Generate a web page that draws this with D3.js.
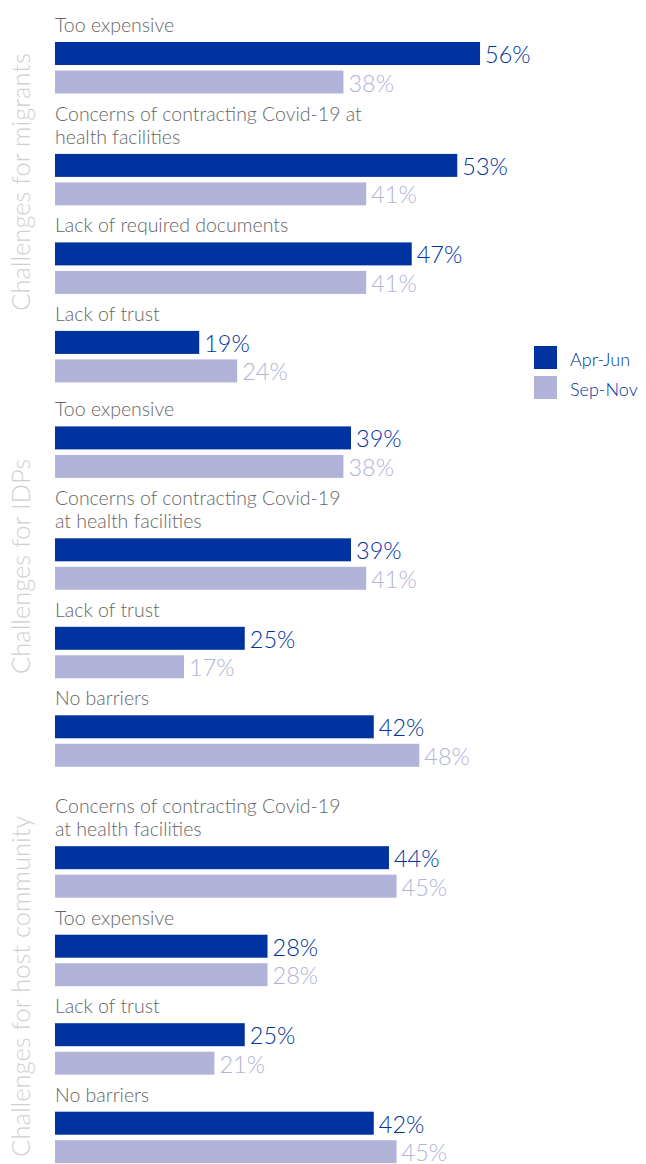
<!DOCTYPE html>
<html>
<head>
<meta charset="utf-8">
<script src="https://cdn.jsdelivr.net/npm/d3@7"></script>
<style>
  html, body { margin: 0; padding: 0; background: #ffffff; }
  svg { display: block; }
  text { font-family: Lato, "Open Sans", sans-serif; }
</style>
</head>
<body>
<svg id="chart" width="646" height="1164"></svg>
<script>
// Barriers to accessing health care, by population group and survey round
const seriesNames = ["Apr-Jun", "Sep-Nov"];
const groupTitles = ["Challenges for migrants", "Challenges for IDPs", "Challenges for host community"];

const migrantCategories = ["Too expensive", "Concerns of contracting Covid-19 at\nhealth facilities", "Lack of required documents", "Lack of trust"];
const migrantAprJun = [56, 53, 47, 19];
const migrantSepNov = [38, 41, 41, 24];

const idpCategories = ["Too expensive", "Concerns of contracting Covid-19\nat health facilities", "Lack of trust", "No barriers"];
const idpAprJun = [39, 39, 25, 42];
const idpSepNov = [38, 41, 17, 48];

const hostCategories = ["Concerns of contracting Covid-19\nat health facilities", "Too expensive", "Lack of trust", "No barriers"];
const hostAprJun = [44, 28, 25, 42];
const hostSepNov = [45, 28, 21, 45];

const groups = [
  { title: groupTitles[0], cats: migrantCategories, a: migrantAprJun, b: migrantSepNov },
  { title: groupTitles[1], cats: idpCategories, a: idpAprJun, b: idpSepNov },
  { title: groupTitles[2], cats: hostCategories, a: hostAprJun, b: hostSepNov }
];

// Layout settings
const colors = { "Apr-Jun": "#0033a0", "Sep-Nov": "#b1b3d9" };
const labelColor = "#666666";
const titleColor = "#cfcfcf";
const left = 55;
const firstBaseline = 32;
const lineHeight = 23.4;
const labelToBar = 10;
const itemGap = 27;
const groupGaps = [0, 34, 46];

const svg = d3.select("#chart");

const x = d3.scaleLinear().domain([0, 100]).range([0, 759]);
const pair = d3.scaleBand().domain(seriesNames).range([0, 51.5]).paddingInner(0.193);

// Walk down the page placing each category block
let cursor = firstBaseline;
groups.forEach((g, gi) => {
  cursor += groupGaps[gi];
  let firstBarTop = null;
  g.cats.forEach((cat, i) => {
    const lines = cat.split("\n");
    const label = svg.append("text")
      .attr("x", left)
      .attr("y", cursor)
      .attr("fill", labelColor)
      .attr("font-size", 19.5)
      .attr("font-weight", 300);
    lines.forEach((ln, li) => {
      label.append("tspan").attr("x", left).attr("y", cursor + li * lineHeight).text(ln);
    });
    const barTop = cursor + (lines.length - 1) * lineHeight + labelToBar;
    if (firstBarTop === null) firstBarTop = barTop;

    const rows = seriesNames.map((s, si) => ({ s, v: si === 0 ? g.a[i] : g.b[i] }));
    const item = svg.append("g").attr("transform", `translate(${left},${barTop})`);
    item.selectAll("rect").data(rows).join("rect")
      .attr("x", 0)
      .attr("y", d => pair(d.s))
      .attr("width", d => x(d.v))
      .attr("height", pair.bandwidth())
      .attr("fill", d => colors[d.s]);
    item.selectAll("text.val").data(rows).join("text")
      .attr("class", "val")
      .attr("x", d => x(d.v) + 5)
      .attr("y", d => pair(d.s) + pair.bandwidth() - 2)
      .attr("fill", d => colors[d.s])
      .attr("font-size", 23.5)
      .attr("font-weight", 300)
      .text(d => d.v + "%");

    cursor = barTop + pair.range()[1] + itemGap;
  });
  cursor -= itemGap;

  svg.append("text")
    .attr("transform", `translate(30,${firstBarTop + 140}) rotate(-90)`)
    .attr("text-anchor", "middle")
    .attr("fill", titleColor)
    .attr("font-size", 25.5)
    .attr("font-weight", 300)
    .text(g.title);
});

// Legend
const legend = svg.append("g").attr("transform", "translate(534,346)");
const legendRow = legend.selectAll("g").data(seriesNames).join("g")
  .attr("transform", (d, i) => `translate(0,${i * 30})`);
legendRow.append("rect").attr("width", 23).attr("height", 23).attr("fill", d => colors[d]);
legendRow.append("text")
  .attr("x", 36)
  .attr("y", 20)
  .attr("fill", "#0033a0")
  .attr("font-size", 18)
  .attr("font-weight", 300)
  .text(d => d);
</script>
</body>
</html>
